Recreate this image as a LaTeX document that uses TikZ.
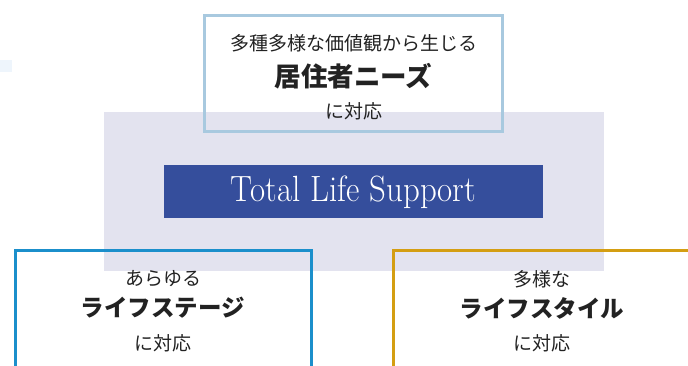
\documentclass[tikz,border=0pt]{standalone}
\usepackage{fontspec}
\newfontfamily\jp{Noto Sans CJK JP}
\definecolor{lav}{HTML}{E3E3EF}
\definecolor{topb}{HTML}{A8C9DF}
\definecolor{leftb}{HTML}{1B8FCB}
\definecolor{rightb}{HTML}{D49E12}
\definecolor{navy}{HTML}{354E9C}
\definecolor{pale}{HTML}{EEF5FC}
\definecolor{ink}{HTML}{222222}
\tikzset{
  frame/.style={line width=3pt},
  small/.style={font=\jp\fontsize{19}{21}\selectfont, text=ink, inner sep=0pt},
  big/.style={font=\jp\bfseries\fontsize{23.5}{26}\selectfont, text=ink, inner sep=0pt},
}
\begin{document}
\begin{tikzpicture}[x=1pt,y=-1pt]
\useasboundingbox (0,0) rectangle (688,366);
\fill[pale] (0,60) rectangle (12,72);
\fill[lav] (104,112) rectangle (604,271);
\fill[navy] (164,165) rectangle (543,218);
\node[text=white, inner sep=0pt] (tls) at (353.5,192) {\scalebox{0.9}[1]{\fontsize{36.5}{40}\selectfont Total Life Support}};
% top box
\draw[frame, topb] (204.5,15.5) rectangle (502.5,131.5);
\node[small] (t1) at (353.5,43) {多種多様な価値観から生じる};
\node[big, font=\jp\bfseries\fontsize{26.5}{28}\selectfont] (t2) at (353.5,76) {居住者ニーズ};
\node[small] (t3) at (353.5,111) {に対応};
% left box
\draw[frame, leftb] (15.5,380) -- (15.5,250.5) -- (311.5,250.5) -- (311.5,380);
\node[small] (l1) at (163,279) {あらゆる};
\node[big] (l2) at (163,308) {ライフステージ};
\node[small] (l3) at (163,343) {に対応};
% right box
\draw[frame, rightb] (393.5,380) -- (393.5,250.5) -- (700,250.5);
\node[small] (r1) at (542,279) {多様な};
\node[big] (r2) at (542,308) {ライフスタイル};
\node[small] (r3) at (542,343) {に対応};
\end{tikzpicture}
\end{document}
